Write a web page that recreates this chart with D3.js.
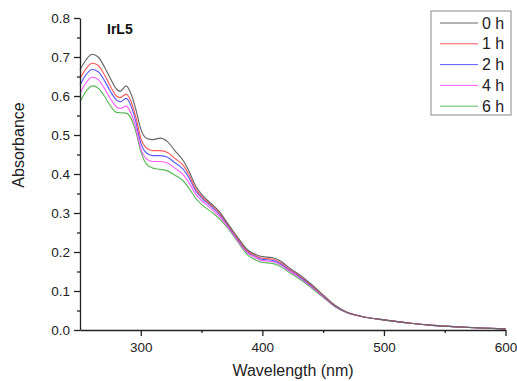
<!DOCTYPE html>
<html><head><meta charset="utf-8">
<script src="https://cdn.jsdelivr.net/npm/d3@7"></script>
<style>body{margin:0;background:#fff}svg{display:block;font-family:"Liberation Sans",Arial,sans-serif}</style>
</head><body>
<svg id="c" width="517" height="381"></svg>
<script>
const wavelengths = [250,255,260,265,270,275,280,283,288,292,296,300,305,310,316,322,328,335,340,345,350,355,360,365,370,375,380,388,395,400,408,415,422,430,440,450,460,470,480,490,500,520,540,560,580,600];
const abs0h = [.667,.693,.707,.700,.675,.645,.618,.612,.626,.605,.565,.515,.491,.488,.492,.483,.460,.434,.405,.370,.348,.332,.318,.302,.280,.258,.236,.205,.193,.188,.186,.177,.160,.143,.118,.090,.063,.045,.036,.030,.026,.018,.012,.008,.005,.003];
const abs1h = [.644,.670,.684,.678,.655,.625,.600,.596,.605,.586,.545,.492,.466,.460,.460,.455,.440,.422,.396,.363,.343,.328,.315,.299,.277,.255,.233,.202,.190,.184,.182,.173,.157,.140,.116,.088,.062,.045,.036,.030,.026,.018,.012,.008,.005,.003];
const abs2h = [.628,.655,.668,.662,.640,.612,.590,.585,.594,.574,.533,.480,.453,.447,.447,.443,.429,.412,.388,.358,.339,.325,.311,.296,.275,.253,.231,.200,.188,.181,.179,.170,.155,.138,.114,.087,.061,.045,.036,.030,.026,.018,.012,.008,.005,.003];
const abs4h = [.607,.634,.648,.642,.620,.593,.572,.568,.574,.555,.518,.465,.438,.432,.432,.428,.415,.398,.376,.349,.332,.319,.305,.291,.271,.250,.228,.197,.184,.178,.176,.167,.152,.136,.112,.086,.060,.044,.036,.030,.026,.018,.012,.008,.005,.003];
const abs6h = [.585,.612,.626,.620,.600,.575,.558,.557,.556,.542,.508,.458,.424,.415,.412,.408,.397,.382,.362,.338,.322,.310,.298,.284,.267,.247,.225,.192,.179,.173,.171,.163,.148,.132,.109,.084,.059,.044,.036,.030,.026,.018,.012,.008,.005,.003];
const seriesNames = ["0 h","1 h","2 h","4 h","6 h"];
const seriesValues = [abs0h,abs1h,abs2h,abs4h,abs6h];
const seriesColors = ["#666666","#ff5a5a","#5a5aff","#ff5aff","#5cb85c"];
const xMajorTicks = [300,400,500,600];
const xMinorTicks = [350,450,550];
const yMajorTicks = [0,0.1,0.2,0.3,0.4,0.5,0.6,0.7,0.8];
const yMinorTicks = [0.05,0.15,0.25,0.35,0.45,0.55,0.65,0.75];

const svg = d3.select("#c");
const x = d3.scaleLinear().domain([250,600]).range([80,505.5]);
const y = d3.scaleLinear().domain([0,0.8]).range([330,18]);

const line = d3.line().x(d=>x(d[0])).y(d=>y(d[1])).curve(d3.curveMonotoneX);
for (let i = seriesValues.length-1; i >= 0; i--) {
  const pts = wavelengths.map((w,j)=>[w, seriesValues[i][j]]);
  svg.append("path").attr("d", line(pts)).attr("fill","none")
    .attr("stroke", seriesColors[i]).attr("stroke-width",1.15);
}

function styleAxis(g){
  g.selectAll("path,line").attr("stroke","#222").attr("stroke-width",1.3);
  g.selectAll("text").attr("font-size",13.5).attr("fill","#222").attr("font-family","Liberation Sans, Arial, sans-serif");
}
const gx = svg.append("g").attr("transform","translate(0,330)")
  .call(d3.axisBottom(x).tickValues(xMajorTicks).tickSize(6).tickSizeOuter(0).tickPadding(6).tickFormat(d3.format("d")));
styleAxis(gx);
const gxm = svg.append("g").attr("transform","translate(0,330)")
  .call(d3.axisBottom(x).tickValues(xMinorTicks).tickSize(3).tickFormat(""));
gxm.select(".domain").remove(); styleAxis(gxm);

const gy = svg.append("g").attr("transform","translate(80,0)")
  .call(d3.axisLeft(y).tickValues(yMajorTicks).tickSize(6).tickSizeOuter(0).tickPadding(4).tickFormat(d3.format(".1f")));
styleAxis(gy);
const gym = svg.append("g").attr("transform","translate(80,0)")
  .call(d3.axisLeft(y).tickValues(yMinorTicks).tickSize(3).tickFormat(""));
gym.select(".domain").remove(); styleAxis(gym);

svg.append("text").attr("x",293).attr("y",376).attr("text-anchor","middle")
  .attr("font-size",16).attr("fill","#222").text("Wavelength (nm)");
svg.append("text").attr("transform","translate(24,145) rotate(-90)").attr("text-anchor","middle")
  .attr("font-size",16).attr("fill","#222").text("Absorbance");
svg.append("text").attr("x",107).attr("y",34).attr("font-size",14).attr("font-weight","bold")
  .attr("fill","#111").text("IrL5");

const lg = svg.append("g");
lg.append("rect").attr("x",431).attr("y",11).attr("width",80).attr("height",104)
  .attr("fill","#fff").attr("stroke","#888").attr("stroke-width",1);
seriesNames.forEach((n,i)=>{
  const yy = 23 + i*20.8;
  lg.append("line").attr("x1",440).attr("x2",478).attr("y1",yy).attr("y2",yy)
    .attr("stroke",seriesColors[i]).attr("stroke-width",1);
  lg.append("text").attr("x",482).attr("y",yy+5.5).attr("font-size",16).attr("fill","#222").text(n);
});
</script>
</body></html>
